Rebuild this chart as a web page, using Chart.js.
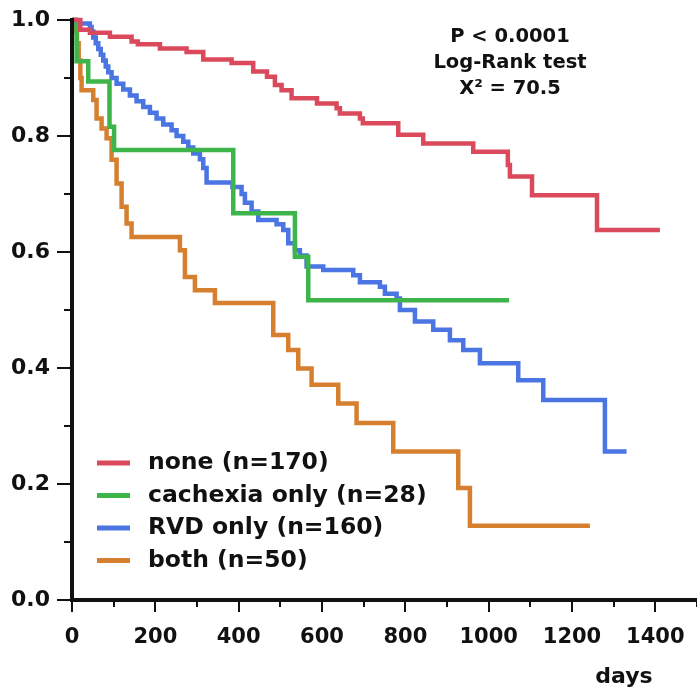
<!DOCTYPE html>
<html>
<head>
<meta charset="utf-8">
<script src="https://cdn.jsdelivr.net/npm/chart.js@4.4.1/dist/chart.umd.min.js"></script>
<style>
  html, body { margin: 0; padding: 0; background: #fff; }
  #wrap { width: 697px; height: 691px; position: relative; }
</style>
</head>
<body>
<div id="wrap"><canvas id="kmChart"></canvas></div>
<script>
// Kaplan-Meier data: [days, survival]
const noneData = [
    [0, 1.0], [20, 0.983], [43, 0.978], [91, 0.971], [143, 0.963], [158, 0.958],
    [211, 0.951], [275, 0.945], [315, 0.932], [383, 0.926], [435, 0.911], [468, 0.902],
    [487, 0.888], [503, 0.879], [527, 0.865], [588, 0.856], [635, 0.848], [643, 0.839],
    [691, 0.830], [698, 0.822], [783, 0.802], [843, 0.787], [963, 0.773], [1046, 0.750],
    [1051, 0.730], [1104, 0.698], [1260, 0.638], [1411, 0.638]
];
const cachexiaData = [
    [0, 1.0], [11, 0.929], [39, 0.894], [90, 0.816], [101, 0.776], [387, 0.667],
    [535, 0.592], [567, 0.517], [1049, 0.517]
];
const rvdData = [
    [0, 1.0], [8, 0.994], [43, 0.988], [47, 0.98], [51, 0.97], [57, 0.96], [63, 0.95], [69, 0.94],
    [75, 0.93], [81, 0.92], [87, 0.91], [95, 0.90], [107, 0.89], [123, 0.88], [139, 0.87],
    [155, 0.86], [171, 0.85], [187, 0.84], [203, 0.83], [219, 0.82], [239, 0.81], [251, 0.80],
    [267, 0.79], [279, 0.78], [291, 0.77], [307, 0.76], [315, 0.745], [323, 0.72], [385, 0.712],
    [407, 0.70], [415, 0.685], [431, 0.67], [447, 0.655], [491, 0.648], [507, 0.638],
    [519, 0.615], [535, 0.603], [547, 0.594], [563, 0.575], [603, 0.569], [675, 0.56],
    [691, 0.548], [739, 0.54], [751, 0.528], [779, 0.52], [787, 0.50], [823, 0.48],
    [867, 0.466], [907, 0.448], [939, 0.431], [979, 0.408], [1071, 0.379], [1131, 0.345],
    [1279, 0.256], [1331, 0.256]
];
const bothData = [
    [0, 1.0], [6, 0.98], [12, 0.96], [16, 0.93], [20, 0.90], [23, 0.879], [51, 0.862],
    [59, 0.83], [71, 0.813], [83, 0.796], [95, 0.759], [107, 0.718], [119, 0.678],
    [131, 0.649], [143, 0.626], [259, 0.603], [271, 0.557], [295, 0.534], [343, 0.512],
    [483, 0.457], [519, 0.431], [543, 0.399], [575, 0.371], [639, 0.339], [683, 0.305],
    [771, 0.256], [927, 0.193], [955, 0.128], [1243, 0.128]
];

const groupLabels = ['none (n=170)', 'cachexia only (n=28)', 'RVD only (n=160)', 'both (n=50)'];
const groupColors = ['#db4a5c', '#3db54a', '#4a75e2', '#d6802f'];
const xTickValues = [0, 200, 400, 600, 800, 1000, 1200, 1400];
const xMinorValues = [100, 300, 500, 700, 900, 1100, 1300, 1500];
const yTickValues = [0, 0.2, 0.4, 0.6, 0.8, 1.0];
const yMinorValues = [0.1, 0.3, 0.5, 0.7, 0.9];
const statLines = ['P < 0.0001', 'Log-Rank test', 'X² = 70.5'];
const xAxisTitle = 'days';

const FONT = '"DejaVu Sans", sans-serif';
const INK = '#111';

function toPoints(arr) {
    return arr.map(function (p) { return { x: p[0], y: p[1] }; });
}

const series = [noneData, cachexiaData, rvdData, bothData];

// axes, tick marks, legend and stats text
const decorPlugin = {
    id: 'decor',
    afterDatasetsDraw: function (chart) {
        const ctx = chart.ctx;
        const area = chart.chartArea;
        const xs = chart.scales.x;
        const ys = chart.scales.y;
        ctx.save();
        ctx.strokeStyle = INK;
        ctx.lineCap = 'butt';

        // tick marks
        ctx.lineWidth = 2;
        yTickValues.forEach(function (v) {
            const py = Math.round(ys.getPixelForValue(v));
            ctx.beginPath(); ctx.moveTo(area.left - 15, py); ctx.lineTo(area.left, py); ctx.stroke();
        });
        yMinorValues.forEach(function (v) {
            const py = Math.round(ys.getPixelForValue(v));
            ctx.beginPath(); ctx.moveTo(area.left - 8, py); ctx.lineTo(area.left, py); ctx.stroke();
        });
        xTickValues.forEach(function (v) {
            const px = Math.round(xs.getPixelForValue(v));
            ctx.beginPath(); ctx.moveTo(px, area.bottom); ctx.lineTo(px, area.bottom + 12); ctx.stroke();
        });
        xMinorValues.forEach(function (v) {
            const px = Math.round(xs.getPixelForValue(v));
            ctx.beginPath(); ctx.moveTo(px, area.bottom); ctx.lineTo(px, area.bottom + 7); ctx.stroke();
        });

        // axis lines
        ctx.lineWidth = 4;
        ctx.beginPath();
        ctx.moveTo(area.left, area.top - 2);
        ctx.lineTo(area.left, area.bottom);
        ctx.lineTo(area.right, area.bottom);
        ctx.stroke();

        // legend
        ctx.font = 'bold 23.5px ' + FONT;
        ctx.textBaseline = 'middle';
        ctx.textAlign = 'left';
        chart.data.datasets.forEach(function (ds, i) {
            const ly = 463 + i * 32.5;
            ctx.strokeStyle = ds.borderColor;
            ctx.lineWidth = 5;
            ctx.beginPath(); ctx.moveTo(area.left + 25, ly); ctx.lineTo(area.left + 58, ly); ctx.stroke();
            ctx.fillStyle = INK;
            ctx.fillText(ds.label, area.left + 76, ly);
        });

        // stats box
        ctx.font = 'bold 19.5px ' + FONT;
        ctx.textAlign = 'center';
        statLines.forEach(function (t, i) {
            ctx.fillText(t, 510, 37 + i * 26);
        });

        // x axis title
        ctx.font = 'bold 22px ' + FONT;
        ctx.fillText(xAxisTitle, 624, 677);
        ctx.restore();
    }
};

const ctx = document.getElementById('kmChart');
new Chart(ctx.getContext('2d'), {
    type: 'line',
    data: {
        datasets: series.map(function (s, i) {
            return {
                label: groupLabels[i],
                data: toPoints(s),
                borderColor: groupColors[i],
                backgroundColor: groupColors[i],
                borderWidth: 4.5,
                stepped: 'before',
                pointRadius: 0,
                fill: false,
                clip: false
            };
        })
    },
    options: {
        responsive: true,
        maintainAspectRatio: false,
        animation: false,
        devicePixelRatio: 1,
        layout: { padding: { top: 20, right: 0, left: 0, bottom: 0 } },
        plugins: {
            legend: { display: false },
            tooltip: { enabled: false }
        },
        scales: {
            x: {
                type: 'linear',
                min: 0,
                max: 1500,
                afterFit: function (scale) {
                    scale.height = 91;
                    scale.paddingLeft = 0; scale.paddingRight = 0;
                },
                afterBuildTicks: function (scale) {
                    scale.ticks = xTickValues.map(function (v) { return { value: v }; });
                },
                grid: { display: false, drawTicks: false },
                border: { display: false },
                ticks: {
                    padding: 25,
                    maxRotation: 0,
                    autoSkip: false,
                    color: INK,
                    font: { family: FONT, size: 21, weight: 'bold' },
                    callback: function (v) { return String(v); }
                }
            },
            y: {
                type: 'linear',
                min: 0,
                max: 1,
                afterFit: function (scale) {
                    scale.width = 72;
                    scale.paddingTop = 0; scale.paddingBottom = 0;
                },
                afterBuildTicks: function (scale) {
                    scale.ticks = yTickValues.map(function (v) { return { value: v }; });
                },
                grid: { display: false, drawTicks: false },
                border: { display: false },
                ticks: {
                    padding: 22,
                    color: INK,
                    font: { family: FONT, size: 22, weight: 'bold' },
                    callback: function (v) { return Number(v).toFixed(1); }
                }
            }
        }
    },
    plugins: [decorPlugin]
});
</script>
</body>
</html>
